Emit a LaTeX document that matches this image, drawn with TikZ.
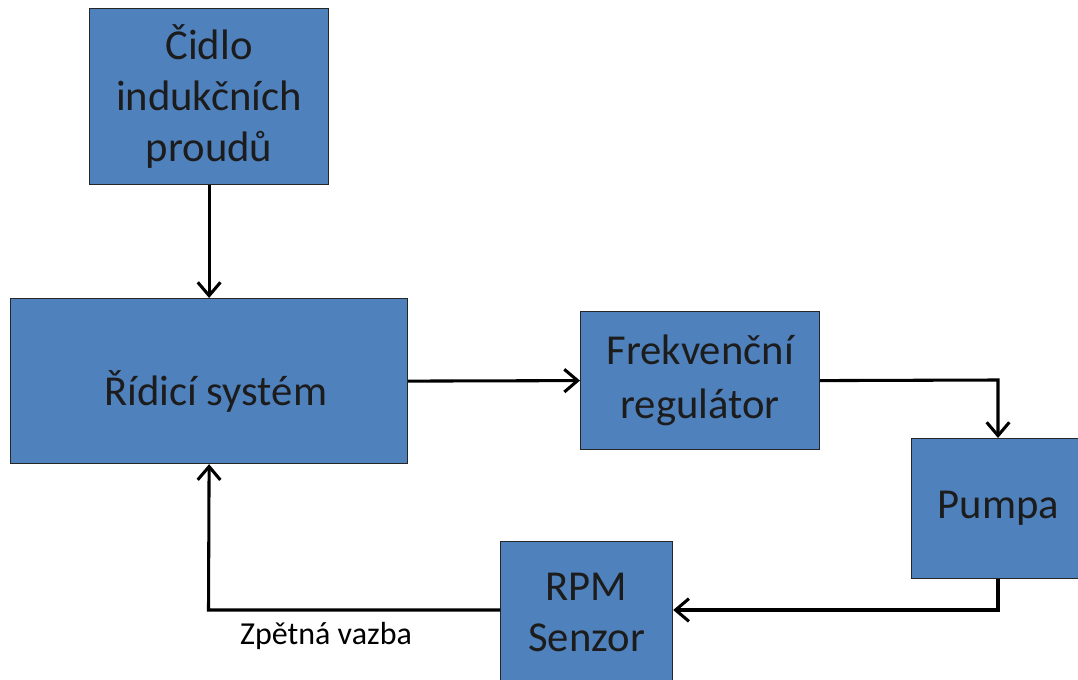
\documentclass[tikz,border=0pt]{standalone}
\usepackage{fontspec}
\setmainfont{Carlito}
\usetikzlibrary{arrows.meta}
\definecolor{boxfill}{HTML}{4F81BD}
\definecolor{boxtext}{HTML}{1C1C1C}
\tikzset{
  blk/.style={draw=black!85, line width=0.9pt, fill=boxfill, text=boxtext, font=\fontsize{32}{38.5}\selectfont, align=center, inner sep=0pt, anchor=north west},
  conn/.style={line width=2.3pt, -{Straight Barb[length=10pt,width=17pt,line width=2.3pt]}},
}
\begin{document}
\begin{tikzpicture}[x=0.75pt,y=-0.75pt]
\useasboundingbox (0,0) rectangle (1078,680);
\begin{scope}
\clip (0,0) rectangle (1078,680);
\node[blk, minimum width=239*0.75pt, minimum height=176*0.75pt] (cidlo) at (89,8) {Čidlo\\indukčních\\proudů};
\node[blk, minimum width=397*0.75pt, minimum height=165*0.75pt, text height=43pt, text depth=6.5pt] (ridici) at (10,298) {\hspace*{10pt}Řídicí systém};
\node[blk, minimum width=239*0.75pt, minimum height=138*0.75pt, font=\fontsize{32}{40.5}\selectfont] (frek) at (580,311) {Frekvenční\\regulátor};
\node[blk, minimum width=174*0.75pt, minimum height=140*0.75pt] (pumpa) at (911,438) {Pumpa};
\node[blk, minimum width=172*0.75pt, minimum height=142*0.75pt] (rpm) at (500,541) {RPM\\Senzor};
\end{scope}
\coordinate (c1) at (998,380);
\coordinate (c2) at (998,610);
\coordinate (c3) at (208.5,610);
\draw[conn] (cidlo.south) -- (ridici.north);
\draw[conn] (ridici.east) -- (frek.west);
\draw[conn] (frek.east) -- (c1) -- (pumpa.north -| c1);
\draw[conn] (pumpa.south -| c2) -- (c2) -- (rpm.east |- c2);
\draw[conn] (rpm.west |- c3) -- (c3) -- (ridici.south);
\node[font=\fontsize{24}{28}\selectfont, text=black, inner sep=0pt] (lbl) at (326,636) {Zpětná vazba};
\end{tikzpicture}
\end{document}
